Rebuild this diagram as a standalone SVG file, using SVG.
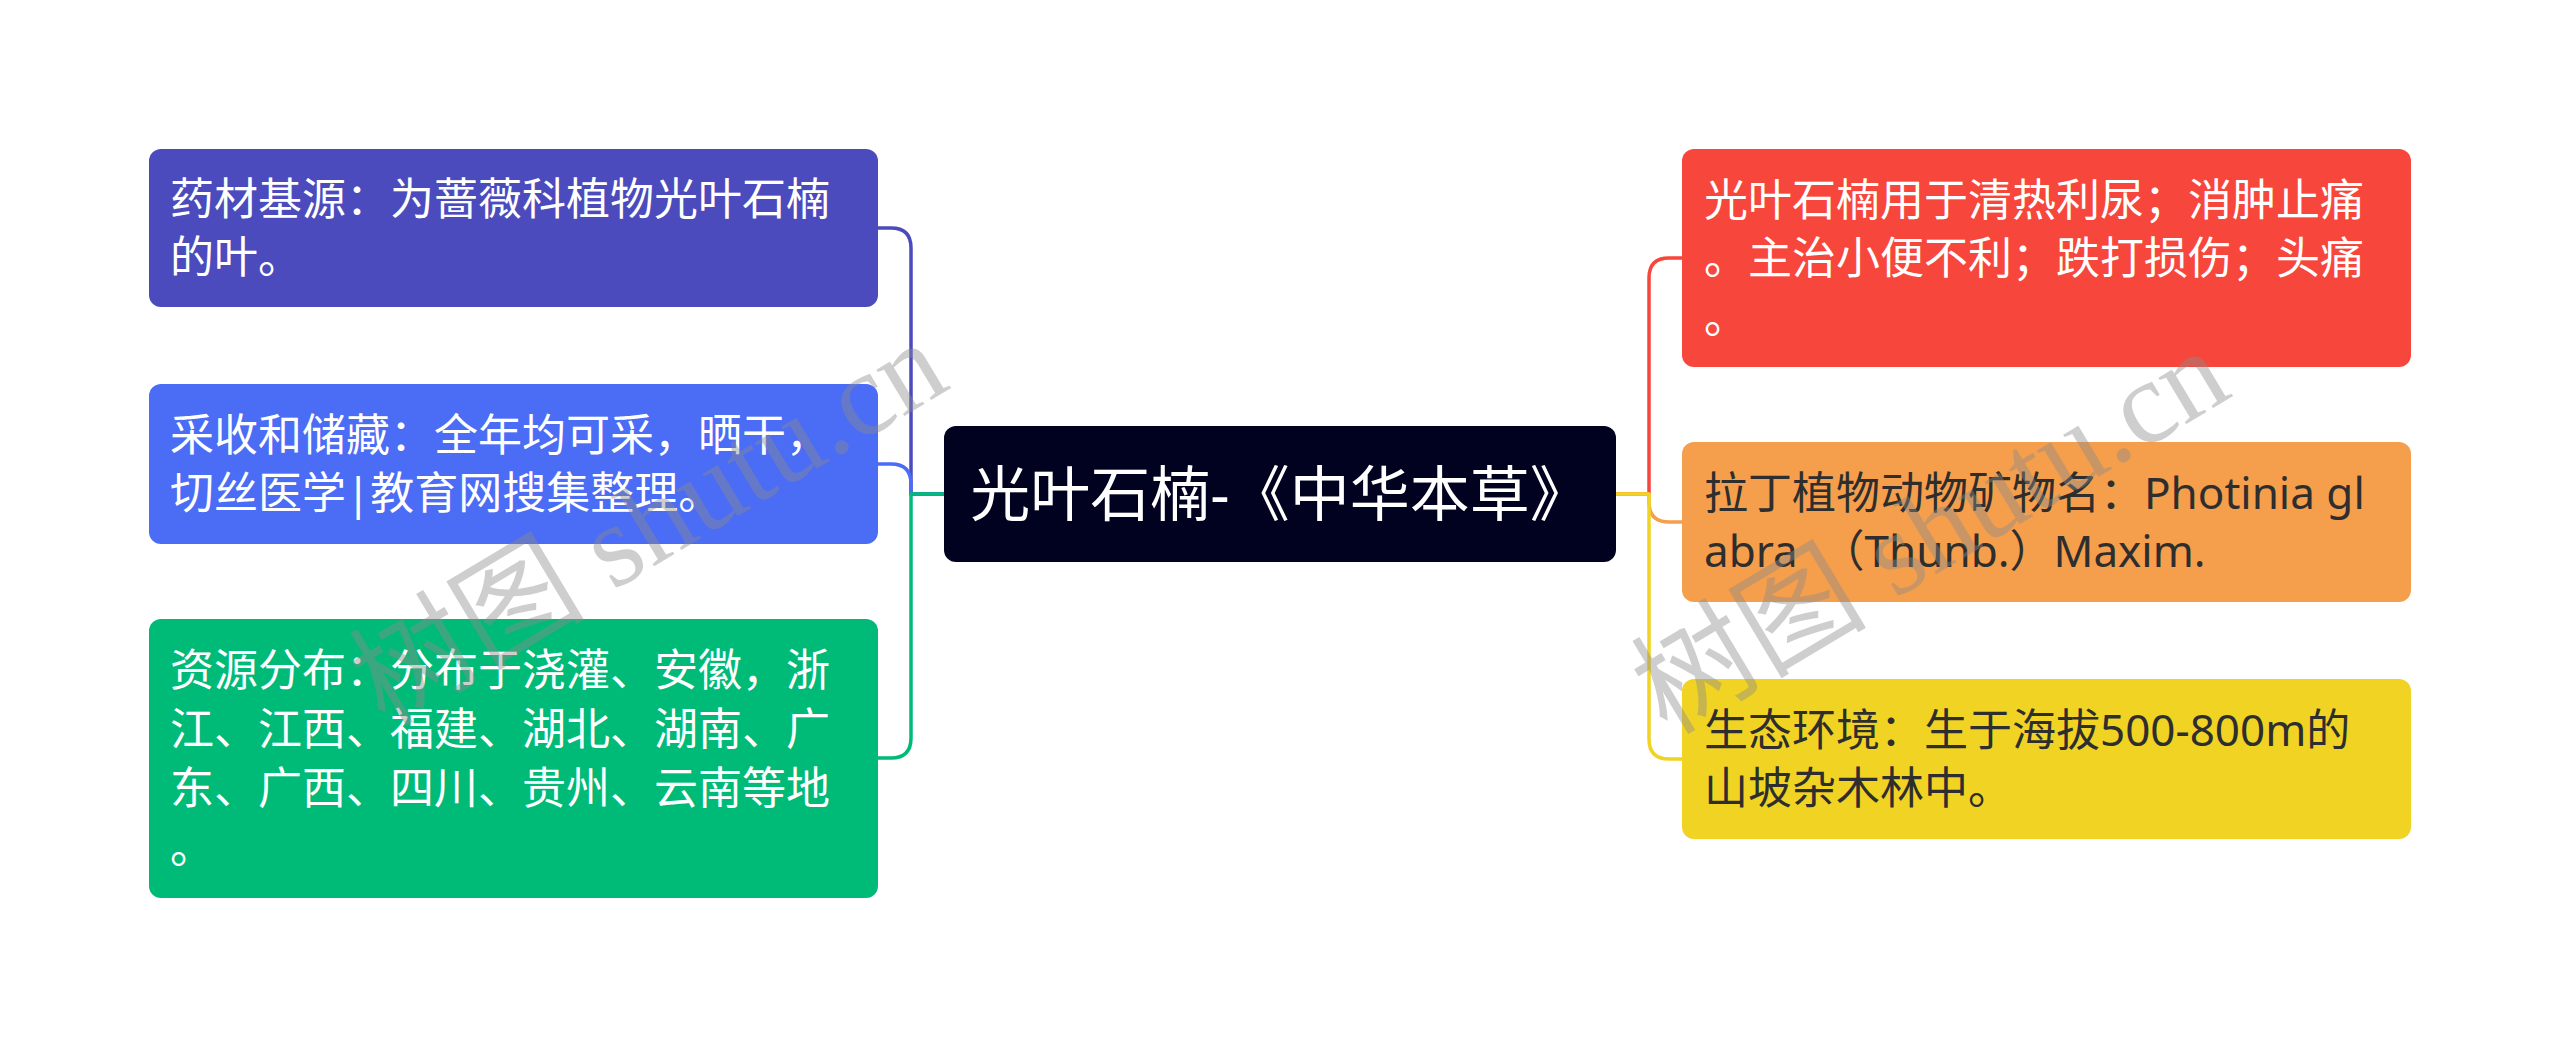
<svg xmlns="http://www.w3.org/2000/svg" width="2560" height="1046" viewBox="0 0 2560 1046">
<style>
.t{font-family:"Noto Sans","Noto Sans CJK SC",sans-serif;font-size:44px}
.w{fill:#ffffff}
.d{fill:#2e2e2e}
.c{font-family:"Noto Sans","Noto Sans CJK SC",sans-serif;font-size:60px;fill:#ffffff}
.ln{fill:none;stroke-width:3.5;stroke-linecap:round;stroke-linejoin:round}
.wm{font-family:"Liberation Serif","Noto Sans CJK SC",serif;font-size:118px;fill:#8c8c8c;opacity:0.42}
</style>
<rect width="2560" height="1046" fill="#ffffff"/>
<g id="connectors">
<path class="ln" stroke="#4b4bbd" d="M944 494 H911 V248 Q911 228 891 228 H878"/>
<path class="ln" stroke="#4b6cf5" d="M944 494 H911 V484 Q911 464 891 464 H878"/>
<path class="ln" stroke="#00ba78" d="M944 494 H911 V738 Q911 758 891 758 H878"/>
<path class="ln" stroke="#f7463c" d="M1616 494 H1649 V278 Q1649 258 1669 258 H1682"/>
<path class="ln" stroke="#f59e4b" d="M1616 494 H1649 V502 Q1649 522 1669 522 H1682"/>
<path class="ln" stroke="#f1d323" d="M1616 494 H1649 V739 Q1649 759 1669 759 H1682"/>
</g>
<g id="center">
<rect x="944" y="426" width="672" height="136" rx="12" fill="#00021f"/>
<text class="c" x="1280" y="516" text-anchor="middle">光叶石楠-《中华本草》</text>
</g>
<g id="left1">
<rect x="149" y="149" width="729" height="158" rx="12" fill="#4b4bbd"/>
<text class="t w" x="170" y="215">药材基源：为蔷薇科植物光叶石楠</text>
<text class="t w" x="170" y="273">的叶。</text>
</g>
<g id="left2">
<rect x="149" y="384" width="729" height="160" rx="12" fill="#4b6cf5"/>
<text class="t w" x="170" y="451">采收和储藏：全年均可采，晒干，</text>
<text class="t w" x="170" y="509">切丝医学|教育网搜集整理。</text>
</g>
<g id="left3">
<rect x="149" y="619" width="729" height="279" rx="12" fill="#00ba78"/>
<text class="t w" x="170" y="686">资源分布：分布于浇灌、安徽，浙</text>
<text class="t w" x="170" y="745">江、江西、福建、湖北、湖南、广</text>
<text class="t w" x="170" y="804">东、广西、四川、贵州、云南等地</text>
<text class="t w" x="170" y="863">。</text>
</g>
<g id="right1">
<rect x="1682" y="149" width="729" height="218" rx="12" fill="#f7463c"/>
<text class="t w" x="1704" y="216">光叶石楠用于清热利尿；消肿止痛</text>
<text class="t w" x="1704" y="274">。主治小便不利；跌打损伤；头痛</text>
<text class="t w" x="1704" y="333">。</text>
</g>
<g id="right2">
<rect x="1682" y="442" width="729" height="160" rx="12" fill="#f59e4b"/>
<text class="t d" x="1704" y="509">拉丁植物动物矿物名：Photinia gl</text>
<text class="t d" x="1704" y="567" xml:space="preserve">abra  （Thunb.）Maxim.</text>
</g>
<g id="right3">
<rect x="1682" y="679" width="729" height="160" rx="12" fill="#f1d323"/>
<text class="t d" x="1704" y="746">生态环境：生于海拔500-800m的</text>
<text class="t d" x="1704" y="804">山坡杂木林中。</text>
</g>
<text class="wm" transform="translate(385 728) rotate(-31)">树图 shutu.cn</text>
<text class="wm" transform="translate(1667 736) rotate(-31)">树图 shutu.cn</text>
</svg>
